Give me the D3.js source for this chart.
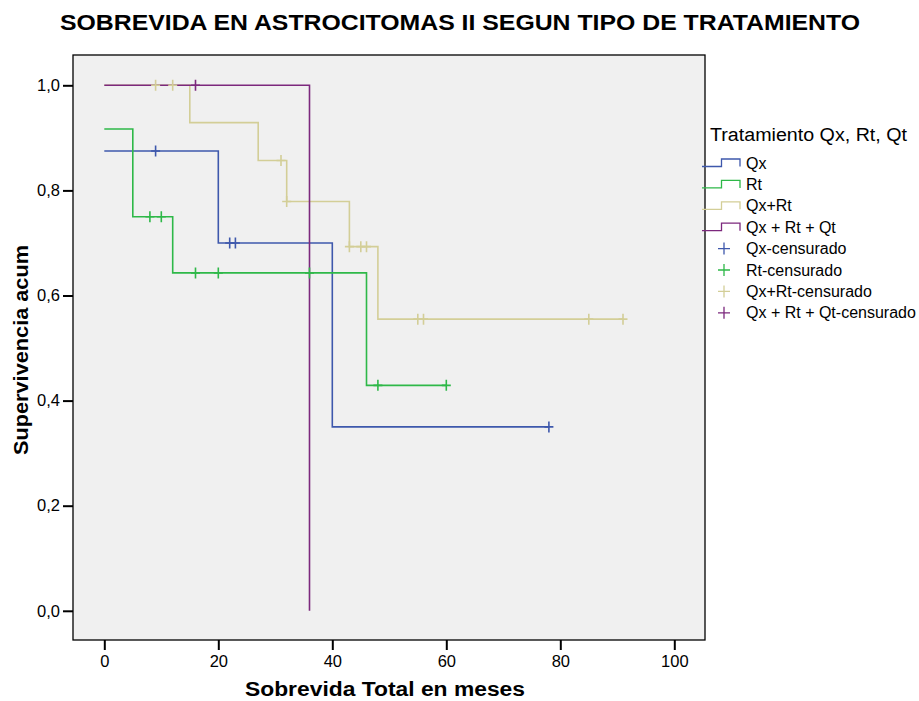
<!DOCTYPE html>
<html><head><meta charset="utf-8">
<script src="https://cdn.jsdelivr.net/npm/d3@7"></script>
<style>body{margin:0;background:#fff;} text{font-family:"Liberation Sans",Arial,sans-serif;}</style>
</head><body><svg id="c" width="919" height="701"></svg>
<script>
// Survival step data: [time, survival]
const qxSteps = [[0,0.875],[20,0.70],[40,0.35],[78,0.35]];
const qxCens = [[9,0.875],[22,0.70],[23,0.70],[78,0.35]];
const rtSteps = [[0,0.9167],[5,0.75],[12,0.643],[46,0.429],[60,0.429]];
const rtCens = [[8,0.75],[10,0.75],[16,0.643],[20,0.643],[36,0.643],[48,0.429],[60,0.429]];
const qxrtSteps = [[0,1.0],[15,0.929],[27,0.857],[32,0.779],[43,0.693],[48,0.555],[91,0.555]];
const qxrtCens = [[9,1.0],[12,1.0],[31,0.857],[32,0.779],[43,0.693],[45,0.693],[46,0.693],[55,0.555],[56,0.555],[85,0.555],[91,0.555]];
const qxrtqtSteps = [[0,1.0],[36,0.0],[36,0.0]];
const qxrtqtCens = [[16,1.0]];
const seriesNames = ["Qx","Rt","Qx+Rt","Qx + Rt + Qt"];
const colors = ["#3E58AC","#2EB848","#D3CE97","#7C287D"];
const xTicks = [0,20,40,60,80,100];
const yTicks = [0,0.2,0.4,0.6,0.8,1.0];

const svg = d3.select("#c");
const L=73, R=705, T=55, B=640;
const x = d3.scaleLinear().domain([0,100]).range([104.3,674.3]);
const y = d3.scaleLinear().domain([0,1]).range([610.8,85.3]);

svg.append("rect").attr("x",L).attr("y",T).attr("width",R-L).attr("height",B-T)
  .attr("fill","#F0F0F0").attr("stroke","#000").attr("stroke-width",1.3);

svg.append("text").attr("x",60).attr("y",30)
  .attr("font-weight","bold").attr("font-size",22).attr("textLength",800).attr("lengthAdjust","spacingAndGlyphs")
  .text("SOBREVIDA EN ASTROCITOMAS II SEGUN TIPO DE TRATAMIENTO");

// axes
const xAxis = d3.axisBottom(x).tickValues(xTicks).tickSize(10).tickFormat(d3.format("d"));
const gx = svg.append("g").attr("transform",`translate(0,${B})`).call(xAxis);
const yAxis = d3.axisLeft(y).tickValues(yTicks).tickSize(10).tickFormat(d=>d3.format(".1f")(d).replace(".",","));
const gy = svg.append("g").attr("transform",`translate(${L},0)`).call(yAxis);
[gx,gy].forEach(g=>{
  g.select(".domain").remove();
  g.selectAll(".tick line").attr("stroke","#000").attr("stroke-width",2);
  g.selectAll(".tick text").attr("font-size",16.5).attr("fill","#000").attr("font-family","Liberation Sans, Arial, sans-serif");
});
gx.selectAll(".tick text").attr("y",15);

svg.append("text").attr("x",245).attr("y",696)
  .attr("font-weight","bold").attr("font-size",20).attr("textLength",280).attr("lengthAdjust","spacingAndGlyphs")
  .text("Sobrevida Total en meses");
svg.append("text").attr("transform","translate(28,455) rotate(-90)")
  .attr("font-weight","bold").attr("font-size",20).attr("textLength",210).attr("lengthAdjust","spacingAndGlyphs")
  .text("Supervivencia acum");

const stepsAll=[qxSteps,rtSteps,qxrtSteps,qxrtqtSteps];
const censAll=[qxCens,rtCens,qxrtCens,qxrtqtCens];
const line = d3.line().x(d=>x(d[0])).y(d=>y(d[1])).curve(d3.curveStepAfter);
const plot = svg.append("g");
stepsAll.forEach((s,i)=>{
  plot.append("path").attr("d",line(s)).attr("fill","none").attr("stroke",colors[i]).attr("stroke-width",1.6);
});
censAll.forEach((c,i)=>{
  c.forEach(d=>{
    const cx=x(d[0]), cy=y(d[1]);
    plot.append("path").attr("d",`M${cx-4.5},${cy}H${cx+4.5}M${cx},${cy-5.5}V${cy+5.5}`)
      .attr("stroke",colors[i]).attr("stroke-width",1.6).attr("fill","none");
  });
});

// legend
const lg = svg.append("g");
lg.append("text").attr("x",710).attr("y",141).attr("font-size",18).attr("textLength",197).attr("lengthAdjust","spacingAndGlyphs").text("Tratamiento Qx, Rt, Qt");
const cy0=163, dy=21.4;
seriesNames.forEach((n,i)=>{
  const cy=cy0+i*dy;
  lg.append("path").attr("d",`M702,${cy+3.5}H721.5V${cy-4}H740V${cy+3.5}`).attr("fill","none").attr("stroke",colors[i]).attr("stroke-width",1.3);
  lg.append("text").attr("x",746).attr("y",cy+5.5).attr("font-size",16).text(n);
});
seriesNames.forEach((n,i)=>{
  const cy=cy0+(i+4)*dy;
  lg.append("path").attr("d",`M718,${cy}H730M724,${cy-6}V${cy+6}`).attr("fill","none").attr("stroke",colors[i]).attr("stroke-width",1.3);
  lg.append("text").attr("x",746).attr("y",cy+5.5).attr("font-size",16).text(n+"-censurado");
});
</script></body></html>
